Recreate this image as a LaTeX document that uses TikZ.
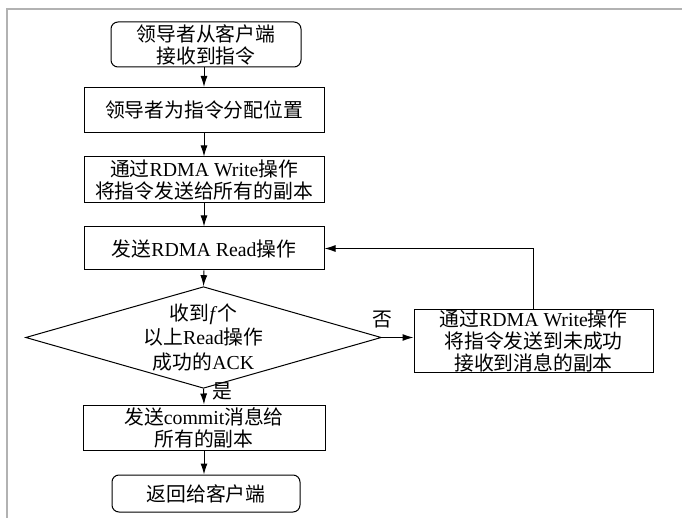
\documentclass[tikz,border=0pt]{standalone}
\usepackage{fontspec}
\setmainfont{Liberation Serif}
\newfontfamily\cjk{Noto Sans CJK SC}
\usetikzlibrary{shapes.geometric,arrows.meta}
\newcommand\zh[1]{{\cjk #1}}
\begin{document}
\begin{tikzpicture}[x=1pt,y=-1pt,
  font=\fontsize{19.8}{22}\selectfont,
  box/.style={draw, line width=1pt, align=center, inner sep=0pt, minimum width=240pt},
  rbox/.style={box, rounded corners=7pt, minimum width=190pt},
  dec/.style={draw, line width=1pt, diamond, aspect=3.5, inner sep=0pt, minimum width=305pt, minimum height=87pt, align=center, font=\fontsize{19.8}{24.5}\selectfont},
  arr/.style={line width=1pt, -{Latex[length=11pt,width=7pt]}},
  frame/.style={draw=black!30, line width=1.3pt}]
\useasboundingbox (0,0) rectangle (682,518);
\draw[frame] (7,518) -- (7,9) -- (682,9);

\node[rbox, minimum height=45pt] (b1) at (206,44.5) {\zh{领导者从客户端}\\\zh{接收到指令}};
\node[box, minimum height=45pt] (b2) at (204,110) {\zh{领导者为指令分配位置}};
\node[box, minimum height=46pt] (b3) at (204,180) {\zh{通过}RDMA Write\zh{操作}\\\zh{将指令发送给所有的副本}};
\node[box, minimum height=43pt] (b4) at (204,248.5) {\zh{发送}RDMA Read\zh{操作}};
\node[dec] (d) at (203.5,337.5) {\zh{收到}\textit{f}\zh{个}\\\zh{以上}Read\zh{操作}\\\zh{成功的}ACK};
\node[box, minimum width=239pt, minimum height=62pt] (r) at (533.5,341) {\zh{通过}RDMA Write\zh{操作}\\\zh{将指令发送到未成功}\\\zh{接收到消息的副本}};
\node[box, minimum width=242pt, minimum height=45pt] (b5) at (204,427.5) {\zh{发送}commit\zh{消息给}\\\zh{所有的副本}};
\node[rbox, minimum width=188pt, minimum height=37pt] (b6) at (206,493.5) {\zh{返回给客户端}};

\draw[arr] (b1.south -| b2.north) -- (b2.north);
\draw[arr] (b2) -- (b3);
\draw[arr] (b3) -- (b4);
\draw[arr] (b4.south) -- (d.north);
\draw[arr] (d.east) -- (d.east -| r.west);
\draw[arr] (r.north) |- (b4.east);
\draw[arr] (d.south) -- (b5.north);
\draw[arr] (b5.south) -- (b5.south |- b6.north);

\node (no) at (382,320) {\zh{否}};
\node (yes) at (222,391) {\zh{是}};
\end{tikzpicture}
\end{document}
